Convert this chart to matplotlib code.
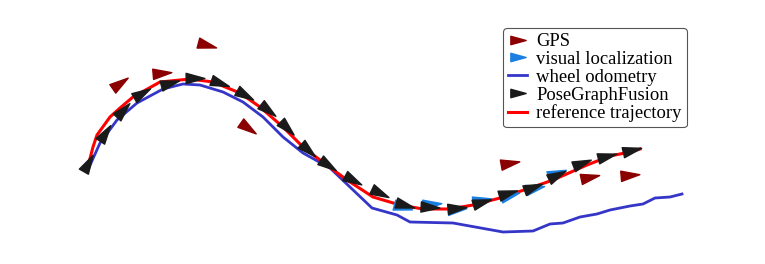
import numpy as np
import matplotlib
matplotlib.use("Agg")
import matplotlib.pyplot as plt
from matplotlib.markers import MarkerStyle
from matplotlib.path import Path
from matplotlib.transforms import Affine2D
from matplotlib.lines import Line2D

# coordinates (image-like units, y grows downward)
ref_x = [87, 93, 97, 110, 120, 133, 160, 190, 213, 240, 260, 283, 303, 320, 347, 373, 400, 423,
         450, 473, 500, 533, 553, 587, 610, 630, 640]
ref_y = [170, 147, 135, 117, 108, 97, 82, 79, 82, 93, 107, 127, 147, 160, 180, 197, 205, 209,
         209, 205, 198, 187, 180, 165, 156, 152, 149]

odo_x = [87, 100, 117, 137, 163, 183, 200, 223, 243, 263, 283, 303, 330, 372, 397, 410, 453,
         503, 533, 550, 563, 580, 597, 610, 630, 643, 655, 670, 682]
odo_y = [172, 143, 120, 103, 89, 84, 85, 92, 102, 117, 137, 153, 168, 208, 215, 222, 223,
         232, 231, 224, 223, 217, 214, 210, 206, 204, 198, 197, 194]

pgf_x = [88, 105, 123, 142, 170, 195, 220, 245, 268, 287, 308, 328, 353, 380, 405, 430, 457,
         482, 508, 533, 557, 582, 607, 632]
pgf_y = [163, 133, 110, 93, 83, 78, 83, 95, 110, 128, 150, 165, 180, 193, 205, 207, 208,
         202, 193, 187, 175, 163, 156, 150]

vis_x = [403, 432, 457, 482, 510, 535, 557]
vis_y = [207, 204, 209, 200, 195, 188, 173]
vis_heading = [-15, 5, 5, 10, 15, 12, 20]

gps_x = [207, 120, 162, 248, 510, 590, 630]
gps_y = [45, 83, 73, 128, 163, 177, 175]
gps_heading = [-15, 35, 5, -35, 10, 12, 5]

C_REF = '#ff0000'
C_ODO = '#3535c8'
C_PGF = '#1a1a1a'
C_VIS = '#1a7fe0'
C_GPS = '#8b0000'

tri = Path([(1, 0), (-1, 0.55), (-1, -0.55), (1, 0)],
           [Path.MOVETO, Path.LINETO, Path.LINETO, Path.CLOSEPOLY])


def arrow(angle_deg):
    return MarkerStyle(tri, transform=Affine2D().rotate_deg(angle_deg))


fig = plt.figure(figsize=(7.65, 2.64), dpi=100)
ax = fig.add_axes([0, 0, 1, 1])
ax.set_xlim(0, 765)
ax.set_ylim(264, 0)
ax.axis('off')

ax.plot(odo_x, odo_y, color=C_ODO, lw=2.0, zorder=2, solid_joinstyle='round')
ax.plot(ref_x, ref_y, color=C_REF, lw=2.2, zorder=3, solid_joinstyle='round')

# headings of fusion markers from neighbouring positions (screen y down -> negate)
px = np.array(pgf_x, float)
py = np.array(pgf_y, float)
pgf_heading = np.degrees(np.arctan2(-np.gradient(py), np.gradient(px)))

for x, y, a in zip(vis_x, vis_y, vis_heading):
    ax.plot([x], [y], marker=arrow(a), ms=13.5, color=C_VIS, ls='none', zorder=4)
for x, y, a in zip(pgf_x, pgf_y, pgf_heading):
    ax.plot([x], [y], marker=arrow(a), ms=13.5, color=C_PGF, ls='none', zorder=5)
for x, y, a in zip(gps_x, gps_y, gps_heading):
    ax.plot([x], [y], marker=arrow(a), ms=13.5, color=C_GPS, ls='none', zorder=5)

handles = [
    Line2D([], [], ls='none', marker=arrow(0), ms=11, color=C_GPS),
    Line2D([], [], ls='none', marker=arrow(0), ms=11, color=C_VIS),
    Line2D([], [], color=C_ODO, lw=2.0),
    Line2D([], [], ls='none', marker=arrow(0), ms=11, color=C_PGF),
    Line2D([], [], color=C_REF, lw=2.2),
]
labels = ['GPS', 'visual localization', 'wheel odometry', 'PoseGraphFusion',
          'reference trajectory']
leg = ax.legend(handles, labels, loc='upper left', bbox_to_anchor=(503 / 765, 1 - 28 / 264),
                prop={'family': 'Liberation Serif', 'size': 13.4}, frameon=True,
                fancybox=True, framealpha=1, edgecolor='#555555', handlelength=1.0,
                handletextpad=0.5, labelspacing=0.04, borderpad=0.28, borderaxespad=0)
leg.get_frame().set_linewidth(0.8)

fig.savefig('out.png', dpi=100)
